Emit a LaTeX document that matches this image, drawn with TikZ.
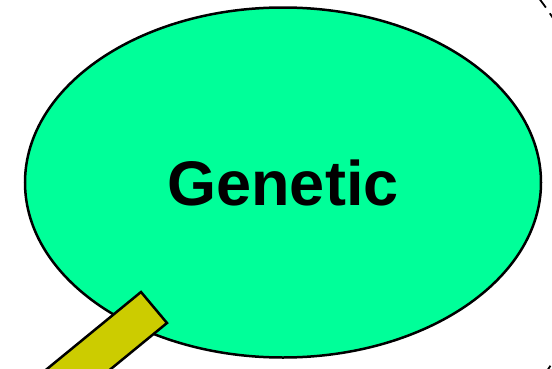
\documentclass[tikz,border=0pt]{standalone}
\usepackage{fontspec}
\setmainfont{Liberation Sans}
\usepackage{tikz}
\usetikzlibrary{shapes.geometric}

\definecolor{genegreen}{RGB}{0,255,153}
\definecolor{baryellow}{RGB}{204,204,0}

\begin{document}
\begin{tikzpicture}[x=1pt, y=1pt,
	bubble/.style={ellipse, draw, line width=2.5pt, fill=genegreen, inner sep=0pt, minimum width=516pt, minimum height=350pt, font=\fontsize{63}{70}\selectfont\bfseries}]
	\useasboundingbox (0,0) rectangle (552,368);
	\clip (0,0) rectangle (552,368);
	\draw [line width=1.8pt, dash pattern=on 10pt off 7pt] ([shift={(-45:315)}] 289,178) arc (-45:45:315);
	\node [bubble] (genetic) at (283,185.5) {Genetic};
	\draw [line width=2.5pt, fill=baryellow, line join=miter] (141,76) -- (167,45) -- (43.3,-56.3) -- (17.3,-25.3) -- cycle;
\end{tikzpicture}
\end{document}
